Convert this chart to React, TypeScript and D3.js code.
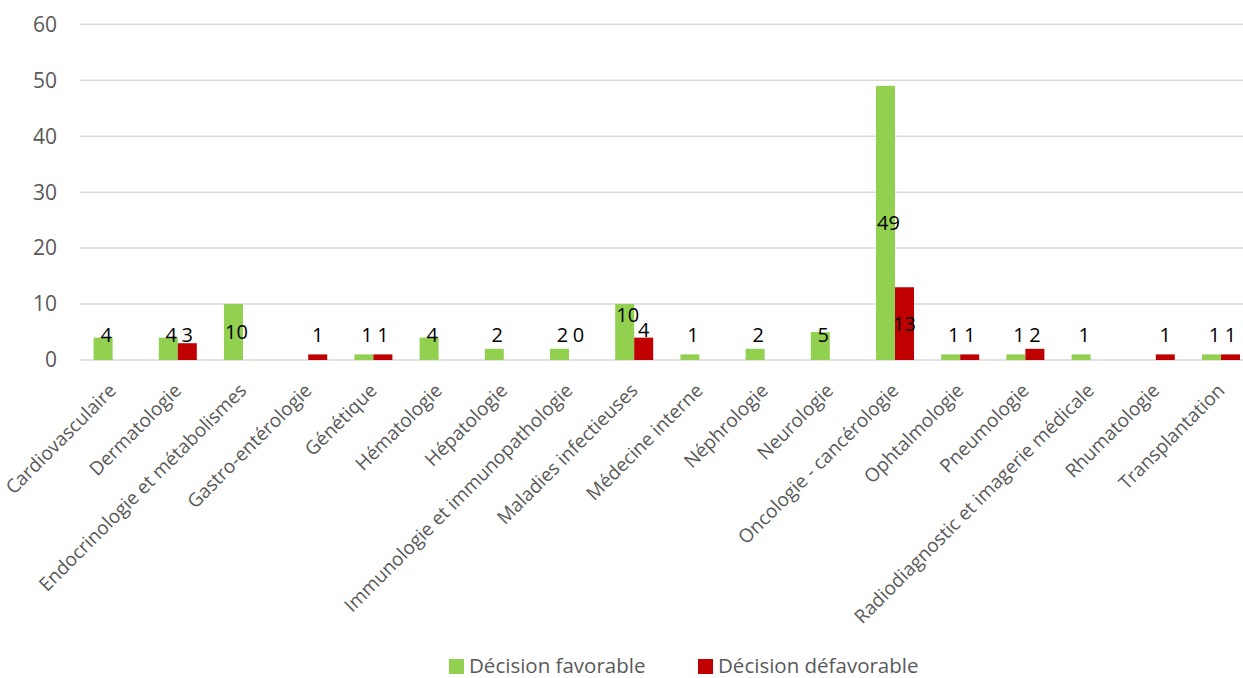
import React, { useEffect, useRef } from "react";
import * as d3 from "d3";

const categories = [
  "Cardiovasculaire",
  "Dermatologie",
  "Endocrinologie et métabolismes",
  "Gastro-entérologie",
  "Génétique",
  "Hématologie",
  "Hépatologie",
  "Immunologie et immunopathologie",
  "Maladies infectieuses",
  "Médecine interne",
  "Néphrologie",
  "Neurologie",
  "Oncologie - cancérologie",
  "Ophtalmologie",
  "Pneumologie",
  "Radiodiagnostic et imagerie médicale",
  "Rhumatologie",
  "Transplantation",
];

const favorable = [4, 4, 10, null, 1, 4, 2, 2, 10, 1, 2, 5, 49, 1, 1, 1, null, 1];
const defavorable = [null, 3, null, 1, 1, null, null, 0, 4, null, null, null, 13, 1, 2, null, 1, 1];

const seriesNames = ["Décision favorable", "Décision défavorable"];
const seriesColors = ["#92D050", "#C00000"];
const yTicks = [0, 10, 20, 30, 40, 50, 60];

const W = 1243;
const H = 678;

const App = () => {
  const svgRef = useRef<SVGSVGElement>(null);

  useEffect(() => {
    const svg = d3.select(svgRef.current);
    svg.selectAll("*").remove();

    const left = 80;
    const step = 65.2;
    const x0 = d3.scaleBand().domain(categories).range([left, left + step * categories.length]).padding(0);
    const x1 = d3.scaleBand().domain(seriesNames).range([0, x0.bandwidth()]).paddingInner(0).paddingOuter(0.716);
    const y = d3.scaleLinear().domain([0, 60]).range([360, 24.3]);

    const font = "'Open Sans', sans-serif";
    const labelSize = 20;

    // gridlines
    svg.append("g")
      .selectAll("line")
      .data(yTicks)
      .join("line")
      .attr("x1", left)
      .attr("x2", W)
      .attr("y1", (d) => y(d))
      .attr("y2", (d) => y(d))
      .attr("stroke", "#d9d9d9")
      .attr("stroke-width", 1.5);

    // y tick labels
    svg.append("g")
      .selectAll("text")
      .data(yTicks)
      .join("text")
      .attr("x", 57)
      .attr("y", (d) => y(d))
      .attr("dy", "0.35em")
      .attr("text-anchor", "end")
      .attr("font-family", font)
      .attr("font-size", 21)
      .attr("fill", "#595959")
      .text((d) => d);

    const series = [favorable, defavorable];

    // bars
    series.forEach((vals, si) => {
      svg.append("g")
        .selectAll("rect")
        .data(vals.map((v, i) => ({ v, c: categories[i] })).filter((d) => d.v !== null))
        .join("rect")
        .attr("x", (d) => (x0(d.c) as number) + (x1(seriesNames[si]) as number))
        .attr("width", x1.bandwidth())
        .attr("y", (d) => y(d.v as number))
        .attr("height", (d) => y(0) - y(d.v as number))
        .attr("fill", seriesColors[si]);
    });

    // data labels: centred in the bar, kept above the axis, nudged when a pair collides
    const halfW = (v: number) => String(v).length * 0.29 * labelSize + 3;
    const labels: { x: number; y: number; v: number }[] = [];
    categories.forEach((c, i) => {
      const vf = favorable[i];
      const vd = defavorable[i];
      const xf = (x0(c) as number) + (x1(seriesNames[0]) as number) + x1.bandwidth() / 2 + 3;
      const xd = (x0(c) as number) + (x1(seriesNames[1]) as number) + x1.bandwidth() / 2;
      let yf = vf !== null ? Math.min(y(vf / 2), 335) : 0;
      let yd = vd !== null ? Math.min(y(vd / 2), 335) : 0;
      if (vf !== null && vd !== null && Math.abs(yf - yd) < 18 && halfW(vf) + halfW(vd) > x1.bandwidth() + 3) {
        yf -= 17;
        yd -= 5;
      }
      if (vf !== null) labels.push({ x: xf, y: yf, v: vf });
      if (vd !== null) labels.push({ x: xd, y: yd, v: vd });
    });

    svg.append("g")
      .selectAll("text")
      .data(labels)
      .join("text")
      .attr("x", (d) => d.x)
      .attr("y", (d) => d.y)
      .attr("dy", "0.35em")
      .attr("text-anchor", "middle")
      .attr("font-family", font)
      .attr("font-size", labelSize)
      .attr("fill", "#000")
      .text((d) => d.v);

    // category labels
    svg.append("g")
      .selectAll("text")
      .data(categories)
      .join("text")
      .attr("transform", (d) => `translate(${(x0(d) as number) + x0.bandwidth() / 2}, 387) rotate(-45)`)
      .attr("text-anchor", "end")
      .attr("dy", "0.35em")
      .attr("font-family", font)
      .attr("font-size", 19)
      .attr("fill", "#595959")
      .text((d) => d);

    // legend
    const legendX = [449, 698];
    const lg = svg.append("g");
    seriesNames.forEach((name, i) => {
      lg.append("rect")
        .attr("x", legendX[i])
        .attr("y", 659)
        .attr("width", 15)
        .attr("height", 15)
        .attr("fill", seriesColors[i]);
      lg.append("text")
        .attr("x", legendX[i] + 20)
        .attr("y", 666)
        .attr("dy", "0.35em")
        .attr("font-family", font)
        .attr("font-size", 20.5)
        .attr("fill", "#595959")
        .text(name);
    });
  }, []);

  return (
    <svg
      ref={svgRef}
      width={W}
      height={H}
      style={{ position: "fixed", top: 0, left: 0, background: "#fff" }}
    />
  );
};

export default App;
